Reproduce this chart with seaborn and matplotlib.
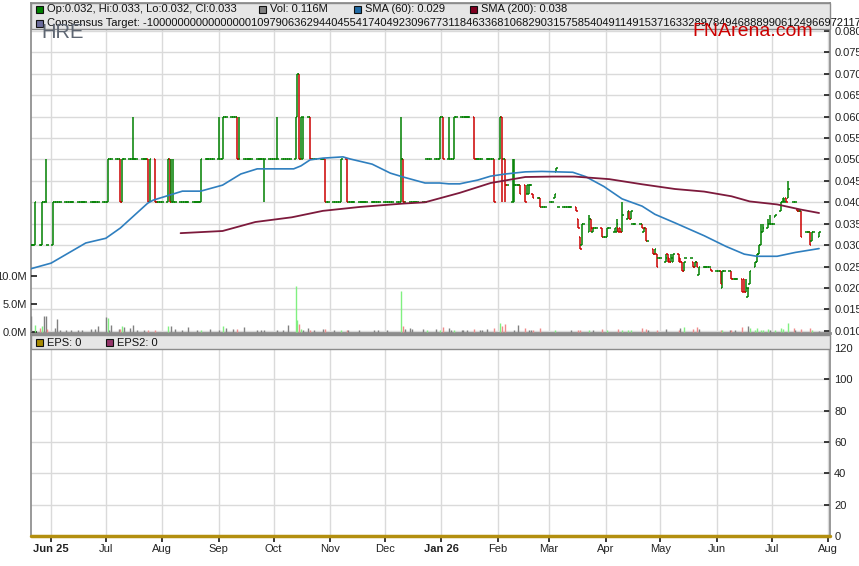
import matplotlib
matplotlib.use("Agg")
import matplotlib.pyplot as plt
from matplotlib.patches import Rectangle
import seaborn as sns
import numpy as np
import pandas as pd

# daily bars, prices in tenths of a cent (30 = 0.030); unlisted days repeat the last close
bar_dates = [
    "2025-05-21", "2025-05-23", "2025-05-26", "2025-05-27", "2025-05-29", "2025-05-30", "2025-06-02",
    "2025-07-02", "2025-07-09", "2025-07-10", "2025-07-16", "2025-07-24", "2025-07-25", "2025-07-28",
    "2025-08-04", "2025-08-05", "2025-08-06", "2025-08-07", "2025-08-22",
    "2025-09-01", "2025-09-03", "2025-09-11", "2025-09-12", "2025-09-26",
    "2025-10-03", "2025-10-13", "2025-10-14", "2025-10-15", "2025-10-16", "2025-10-17", "2025-10-21", "2025-10-29",
    "2025-11-07", "2025-11-10", "2025-12-10", "2025-12-11", "2025-12-24", "2025-12-31",
    "2026-01-02", "2026-01-05", "2026-01-08", "2026-01-19", "2026-01-30",
    "2026-02-02", "2026-02-03", "2026-02-05", "2026-02-09", "2026-02-10", "2026-02-13", "2026-02-16",
    "2026-02-17", "2026-02-18", "2026-02-20", "2026-02-24",
    "2026-03-02", "2026-03-04", "2026-03-05", "2026-03-06", "2026-03-16", "2026-03-17", "2026-03-18",
    "2026-03-19", "2026-03-23", "2026-03-24", "2026-03-25", "2026-03-30",
    "2026-04-02", "2026-04-06", "2026-04-07", "2026-04-08", "2026-04-09", "2026-04-10", "2026-04-13",
    "2026-04-14", "2026-04-15", "2026-04-16", "2026-04-21", "2026-04-22", "2026-04-23", "2026-04-27",
    "2026-04-28", "2026-04-29", "2026-04-30",
    "2026-05-04", "2026-05-05", "2026-05-06", "2026-05-07", "2026-05-08", "2026-05-11", "2026-05-12",
    "2026-05-13", "2026-05-14", "2026-05-15", "2026-05-19", "2026-05-20", "2026-05-21", "2026-05-22",
    "2026-05-29",
    "2026-06-03", "2026-06-04", "2026-06-09", "2026-06-15", "2026-06-16", "2026-06-17", "2026-06-18",
    "2026-06-19", "2026-06-22", "2026-06-23", "2026-06-24", "2026-06-25", "2026-06-26", "2026-06-29",
    "2026-06-30",
    "2026-07-03", "2026-07-06", "2026-07-07", "2026-07-08", "2026-07-09", "2026-07-10", "2026-07-13",
    "2026-07-15", "2026-07-17", "2026-07-20", "2026-07-22", "2026-07-23", "2026-07-27",
]
bar_open = [
    30, 30, 30, 30, 40, 30, 30,
    40, 50, 40, 50, 50, 40, 50,
    40, 50, 40, 40, 40,
    50, 50, 60, 50, 50,
    50, 50, 60, 70, 50, 50, 60, 50,
    40, 50, 40, 50, 50, 50,
    60, 50, 50, 60, 50,
    50, 60, 50, 40, 40, 44, 44,
    42, 42, 42, 41,
    40, 41, 47, 39, 39, 36, 32,
    30, 33, 36, 33, 34,
    32, 33, 33, 34, 34, 33, 36,
    38, 36, 35, 35, 33, 34, 29,
    28, 28, 27,
    26, 28, 27, 26, 26, 28, 27,
    26, 24, 27, 26, 25, 26, 23,
    24.5,
    24, 20, 24, 22, 22, 19, 18,
    21, 25, 26, 28, 30, 33, 34,
    35,
    36.5, 38, 40, 40, 41, 41, 40,
    38.5, 38, 33, 33, 31, 32,
]
bar_high = [
    30, 40, 30, 40, 50, 30, 40,
    50, 50, 50, 60, 50, 50, 50,
    50, 50, 50, 50, 50,
    60, 60, 60, 60, 50,
    60, 60, 70, 70, 60, 60, 60, 50,
    50, 50, 60, 50, 50, 60,
    60, 60, 60, 60, 50,
    60, 60, 50, 50, 50, 44, 44,
    44, 44, 42, 41,
    40, 42, 48, 39, 39, 36, 32,
    35, 37, 36, 34, 34,
    34, 34, 36, 34, 34, 40, 38,
    38, 38, 35, 35, 34, 34, 29,
    29, 28, 27,
    28, 28, 27, 28, 28, 28, 27,
    26, 26, 27, 26, 26, 26, 25,
    24.5,
    24, 24, 24, 22, 22, 22, 20,
    24, 26, 28, 30, 35, 35, 36,
    37,
    37, 40, 41, 41, 41, 45, 40,
    38.5, 38, 33, 33, 33, 33,
]
bar_low = [
    30, 30, 30, 30, 40, 30, 30,
    40, 40, 40, 50, 40, 40, 40,
    40, 40, 40, 40, 40,
    50, 50, 50, 50, 40,
    50, 50, 60, 50, 50, 50, 50, 40,
    40, 40, 40, 40, 50, 50,
    50, 50, 50, 50, 40,
    50, 40, 40, 40, 40, 42, 40,
    42, 42, 41, 39,
    40, 41, 47, 39, 38, 34, 29,
    30, 33, 33, 33, 32,
    32, 33, 33, 33, 33, 33, 36,
    36, 36, 35, 34, 33, 31, 28,
    28, 25, 27,
    26, 26, 26, 26, 26, 26, 26,
    24, 24, 27, 25, 25, 25, 23,
    24,
    21, 20, 22, 19, 19, 19, 18,
    21, 25, 26, 28, 30, 33, 34,
    35,
    36.5, 38, 40, 40, 40, 41, 40,
    38, 32, 33, 30, 31, 32,
]
bar_close = [
    30, 40, 30, 40, 40, 30, 40,
    50, 40, 50, 50, 40, 50, 40,
    50, 40, 40, 40, 50,
    50, 60, 50, 50, 50,
    50, 60, 70, 50, 60, 60, 50, 40,
    50, 40, 50, 40, 50, 60,
    50, 50, 60, 50, 40,
    60, 50, 44, 44, 44, 42, 40,
    44, 44, 41, 39,
    40, 42, 48, 39, 38, 34, 29,
    35, 36, 34, 34, 32,
    34, 34, 35, 33, 33, 37, 38,
    36, 38, 35, 34, 34, 31, 28,
    29, 25, 27,
    27, 26, 26, 27, 28, 26, 26,
    24, 26, 27, 25, 26, 25, 25,
    24,
    21, 24, 22, 19, 19, 20, 20,
    24, 26, 28, 30, 33, 34, 35,
    35,
    37, 40, 41, 40, 40, 43, 40,
    38, 32, 33, 30, 33, 33,
]

# daily volume, millions of shares
vol_dates = [
    "2025-05-21", "2025-05-23", "2025-05-26", "2025-05-27", "2025-05-28", "2025-05-29", "2025-05-30",
    "2025-06-03", "2025-06-04", "2025-06-06", "2025-06-09", "2025-06-12", "2025-06-16", "2025-06-18",
    "2025-06-23", "2025-06-25", "2025-06-27",
    "2025-07-01", "2025-07-02", "2025-07-03", "2025-07-04", "2025-07-08", "2025-07-09", "2025-07-10",
    "2025-07-11", "2025-07-14", "2025-07-16", "2025-07-18", "2025-07-22", "2025-07-24", "2025-07-28",
    "2025-08-04", "2025-08-06", "2025-08-08", "2025-08-12", "2025-08-15", "2025-08-20", "2025-08-22",
    "2025-08-27",
    "2025-09-01", "2025-09-03", "2025-09-05", "2025-09-09", "2025-09-11", "2025-09-15", "2025-09-22",
    "2025-09-24", "2025-09-26",
    "2025-10-03", "2025-10-06", "2025-10-09", "2025-10-13", "2025-10-14", "2025-10-15", "2025-10-16",
    "2025-10-17", "2025-10-20", "2025-10-21", "2025-10-23", "2025-10-28", "2025-10-29",
    "2025-11-03", "2025-11-07", "2025-11-10", "2025-11-11", "2025-11-17", "2025-11-25", "2025-11-27",
    "2025-12-02", "2025-12-10", "2025-12-11", "2025-12-12", "2025-12-15", "2025-12-16", "2025-12-22",
    "2025-12-24", "2025-12-29", "2025-12-31",
    "2026-01-02", "2026-01-05", "2026-01-06", "2026-01-08", "2026-01-12", "2026-01-13", "2026-01-15",
    "2026-01-19", "2026-01-22", "2026-01-23", "2026-01-26", "2026-01-30",
    "2026-02-02", "2026-02-03", "2026-02-05", "2026-02-10", "2026-02-12", "2026-02-16", "2026-02-18",
    "2026-02-19", "2026-02-20", "2026-02-24",
    "2026-03-04", "2026-03-13", "2026-03-17", "2026-03-18", "2026-03-23", "2026-03-25", "2026-03-30",
    "2026-04-02", "2026-04-08", "2026-04-10", "2026-04-13", "2026-04-15", "2026-04-21", "2026-04-23",
    "2026-04-24", "2026-04-29",
    "2026-05-04", "2026-05-11", "2026-05-12", "2026-05-14", "2026-05-19", "2026-05-21", "2026-05-22",
    "2026-06-03", "2026-06-04", "2026-06-08", "2026-06-09", "2026-06-11", "2026-06-15", "2026-06-18",
    "2026-06-19", "2026-06-22", "2026-06-23", "2026-06-25", "2026-06-26", "2026-06-29", "2026-06-30",
    "2026-07-03", "2026-07-06", "2026-07-07", "2026-07-10", "2026-07-13", "2026-07-14", "2026-07-17",
    "2026-07-22", "2026-07-23", "2026-07-27",
]
vol_values = [
    2.8, 1.2, 0.7, 1.0, 2.8, 2.8, 0.5,
    0.7, 2.2, 0.3, 0.25, 0.3, 0.3, 0.3,
    0.4, 0.5, 1.0,
    2.6, 2.4, 0.3, 1.2, 0.5, 0.5, 1.0,
    0.9, 0.7, 1.2, 0.3, 0.3, 0.3, 0.2,
    1.0, 1.0, 0.5, 0.3, 0.85, 0.3, 0.3,
    0.5,
    0.3, 1.0, 0.7, 0.5, 0.5, 0.85, 0.3,
    0.3, 0.2,
    0.3, 0.3, 1.2, 8.3, 2.1, 1.4, 0.5,
    0.3, 0.7, 0.3, 0.2, 0.4, 0.5,
    0.2, 0.2, 0.2, 0.2, 0.2, 0.2, 0.2,
    0.3, 7.4, 1.0, 0.5, 0.7, 0.4, 0.5,
    0.3, 0.5, 0.3,
    0.85, 0.6, 0.3, 0.3, 0.3, 0.2, 0.3,
    0.5, 0.3, 0.3, 0.4, 0.7,
    1.6, 1.0, 1.4, 0.3, 1.2, 0.7, 0.2,
    0.2, 0.3, 0.7,
    0.2, 0.2, 0.3, 0.3, 0.2, 0.2, 0.4,
    0.3, 0.4, 0.3, 0.3, 0.3, 0.7, 0.5,
    0.3, 0.3,
    0.4, 0.3, 0.6, 0.85, 0.5, 0.85, 0.4,
    0.2, 0.3, 0.3, 0.3, 0.3, 0.85, 1.0,
    0.6, 0.3, 0.7, 0.3, 0.3, 0.4, 0.3,
    0.3, 0.55, 0.4, 1.6, 0.55, 0.2, 0.5,
    0.55, 0.3, 0.116,
]

# moving averages
sma60_dates = [
    "2025-05-21", "2025-06-01", "2025-06-20", "2025-07-01", "2025-07-09", "2025-07-24", "2025-07-27",
    "2025-08-12", "2025-08-22", "2025-09-03", "2025-09-13", "2025-09-22", "2025-10-12", "2025-10-16",
    "2025-10-21", "2025-10-28", "2025-11-08", "2025-11-12", "2025-11-24", "2025-12-04", "2025-12-11",
    "2025-12-23", "2025-12-31", "2026-01-05", "2026-01-11", "2026-01-21", "2026-01-28", "2026-02-05",
    "2026-02-16", "2026-02-25", "2026-03-14", "2026-03-21", "2026-03-31", "2026-04-10", "2026-04-21",
    "2026-04-28", "2026-05-09", "2026-05-25", "2026-06-06", "2026-06-16", "2026-06-23", "2026-07-04",
    "2026-07-14", "2026-07-27",
]
sma60_values = [
    0.0245, 0.0258, 0.0305, 0.0316, 0.0340, 0.0398, 0.0405,
    0.0426, 0.0426, 0.0440, 0.0466, 0.0478, 0.0478, 0.0485,
    0.0499, 0.0503, 0.0506, 0.0501, 0.0489, 0.0468, 0.0459,
    0.0445, 0.0445, 0.0443, 0.0443, 0.0452, 0.0461, 0.0466,
    0.0471, 0.0472, 0.0470, 0.0460, 0.0437, 0.0408, 0.0391,
    0.0372, 0.0352, 0.0322, 0.0297, 0.0279, 0.0274, 0.0274,
    0.0283, 0.0292,
]
sma200_dates = [
    "2025-08-11", "2025-09-03", "2025-09-21", "2025-10-11", "2025-10-28", "2025-11-17", "2025-12-11",
    "2025-12-23", "2026-01-11", "2026-01-28", "2026-02-16", "2026-03-03", "2026-03-15", "2026-04-03",
    "2026-04-21", "2026-05-09", "2026-05-25", "2026-06-09", "2026-06-19", "2026-07-04", "2026-07-17",
    "2026-07-27",
]
sma200_values = [
    0.0328, 0.0333, 0.0354, 0.0365, 0.0380, 0.0389, 0.0397,
    0.0400, 0.0422, 0.0445, 0.0459, 0.0460, 0.0460, 0.0454,
    0.0442, 0.0431, 0.0425, 0.0414, 0.0402, 0.0395, 0.0383,
    0.0375,
]

eps_dates = ["2025-05-21", "2026-08-02"]
eps_values = [0, 0]

price_ticks = [0.010, 0.015, 0.020, 0.025, 0.030, 0.035, 0.040, 0.045,
               0.050, 0.055, 0.060, 0.065, 0.070, 0.075, 0.080]
vol_ticks = [0, 5, 10]
eps_ticks = [0, 20, 40, 60, 80, 100, 120]
month_ticks = ["2025-06-01", "2025-07-01", "2025-08-01", "2025-09-01", "2025-10-01", "2025-11-01",
               "2025-12-01", "2026-01-01", "2026-02-01", "2026-03-01", "2026-04-01", "2026-05-01",
               "2026-06-01", "2026-07-01", "2026-08-01"]
month_labels = ["Jun 25", "Jul", "Aug", "Sep", "Oct", "Nov", "Dec", "Jan 26",
                "Feb", "Mar", "Apr", "May", "Jun", "Jul", "Aug"]

# build daily table
bars = pd.DataFrame({"open": bar_open, "high": bar_high, "low": bar_low, "close": bar_close},
                    index=pd.to_datetime(bar_dates)) / 1000.0
vol = pd.Series(vol_values, index=pd.to_datetime(vol_dates))
days = pd.bdate_range(bar_dates[0], bar_dates[-1]).union(bars.index).union(vol.index)
ohlc = bars.reindex(days)
last = ohlc["close"].ffill()
for col in ["open", "high", "low", "close"]:
    ohlc[col] = ohlc[col].fillna(last)
ohlc["vol"] = vol.reindex(days).fillna(0)

sns.set_theme(style="white")
plt.rcParams["font.family"] = ["Liberation Sans", "DejaVu Sans"]

W, H = 859, 566
def fx(x):
    return x / W
def fy(y):
    return 1 - y / H

fig = plt.figure(figsize=(8.59, 5.66), dpi=100)
ax = fig.add_axes([fx(31), fy(333), fx(830) - fx(31), fy(3) - fy(333)])
lax = fig.add_axes([fx(31), fy(536), fx(830) - fx(31), fy(335) - fy(536)], sharex=ax)

grid_c = "#dadada"
spine_c = "#8c8c8c"

# volume on a twin axis (left scale), coloured by change in close
vax = ax.twinx()
chg = ohlc["close"].diff().fillna(0)
vcol = np.where(chg > 0, "#80f080", np.where(chg < 0, "#f08a8a", "#808080"))
vax.vlines(ohlc.index, 0, ohlc["vol"], colors=vcol, lw=1.0, zorder=2)
vax.set_ylim(-0.27, 59.7)
vax.yaxis.set_ticks_position("left")
vax.yaxis.set_label_position("left")
vax.set_yticks(vol_ticks)
vax.set_yticklabels([f"{v:.1f}M" for v in vol_ticks])
vax.tick_params(axis="y", direction="in", length=4, pad=3, labelsize=8, colors="#222222")
vax.grid(False)
for s in vax.spines.values():
    s.set_visible(False)

# price panel (right scale)
ax.set_xlim(pd.Timestamp("2025-05-21"), pd.Timestamp("2026-08-02"))
ax.set_ylim(0.0095, 0.0865)
ax.set_yticks(price_ticks)
ax.yaxis.set_major_formatter(matplotlib.ticker.FormatStrFormatter("%.3f"))
ax.yaxis.tick_right()
ax.set_xticks(pd.to_datetime(month_ticks))
ax.grid(True, color=grid_c, lw=1)
ax.set_axisbelow(True)
ax.tick_params(axis="y", which="both", left=False, labelleft=False, right=True, labelright=True,
               direction="in", length=4, pad=3, labelsize=8, colors="#222222")
ax.tick_params(axis="x", bottom=False, labelbottom=False)
for s in ax.spines.values():
    s.set_color(spine_c)
ax.spines["bottom"].set_linewidth(2)

up = ohlc["close"] >= ohlc["open"]
colors = np.where(up, "#008000", "#cc0000")
half = pd.Timedelta(hours=20)
ax.vlines(ohlc.index, ohlc["low"], ohlc["high"], colors=colors, lw=1.1, zorder=3)
ax.hlines(ohlc["open"], ohlc.index - half, ohlc.index, colors=colors, lw=1.1, zorder=3)
ax.hlines(ohlc["close"], ohlc.index, ohlc.index + half, colors=colors, lw=1.1, zorder=3)

sns.lineplot(x=pd.to_datetime(sma60_dates), y=sma60_values, ax=ax, color="#2f7fbf", lw=1.2, zorder=4)
sns.lineplot(x=pd.to_datetime(sma200_dates), y=sma200_values, ax=ax, color="#7d1a3c", lw=1.3, zorder=4)
ax.set_xlabel("")
ax.set_ylabel("")

# EPS panel
lax.set_ylim(0, 128.4)
lax.set_yticks(eps_ticks)
lax.yaxis.tick_right()
lax.grid(True, color=grid_c, lw=1)
lax.set_axisbelow(True)
sns.lineplot(x=pd.to_datetime(eps_dates), y=eps_values, ax=lax, color="#b38f0f", lw=2.5,
             clip_on=False, zorder=5)
lax.set_xlabel("")
lax.set_ylabel("")
lax.set_xticks(pd.to_datetime(month_ticks))
lax.set_xticklabels(month_labels)
for lbl, txt in zip(lax.get_xticklabels(), month_labels):
    lbl.set_fontfamily(["Liberation Sans Narrow", "Liberation Sans", "DejaVu Sans"])
    lbl.set_fontsize(8)
    if " " in txt:
        lbl.set_fontweight("bold")
lax.tick_params(axis="x", bottom=True, direction="out", length=4, pad=2, colors="#222222")
lax.tick_params(axis="y", right=True, direction="in", length=4, pad=3, labelsize=8, colors="#222222")
for s in lax.spines.values():
    s.set_color(spine_c)

# legend bands
fig.add_artist(Rectangle((fx(31), fy(29)), fx(830) - fx(31), fy(3) - fy(29), transform=fig.transFigure,
                         facecolor="#e6e6e6", edgecolor=spine_c, lw=1, zorder=1))
fig.add_artist(Rectangle((fx(31), fy(349)), fx(830) - fx(31), fy(335) - fy(349), transform=fig.transFigure,
                         facecolor="#e6e6e6", edgecolor=spine_c, lw=1, zorder=1))

def key(x, y, color, text):
    fig.add_artist(Rectangle((fx(x), fy(y + 7)), fx(7), 7 / H, transform=fig.transFigure,
                             facecolor=color, edgecolor="#111111", lw=0.8, zorder=3))
    fig.text(fx(x + 11), fy(y + 3.5), text, fontsize=8, color="#111111", va="center", ha="left", zorder=3)

key(36, 6, "#008000", "Op:0.032, Hi:0.033, Lo:0.032, Cl:0.033")
key(259, 6, "#808080", "Vol: 0.116M")
key(354, 6, "#1f6aa5", "SMA (60): 0.029")
key(470, 6, "#800020", "SMA (200): 0.038")
key(36, 20, "#6a6a9a", "Consensus Target: -1000000000000000010979063629440455417404923096773118463368106829"
                       "0315758540491149153716332897849468889906124966972117")
key(36, 339, "#a88a00", "EPS: 0")
key(106, 339, "#94356a", "EPS2: 0")

fig.text(fx(41), fy(32), "HRE", fontsize=14.5, color="#5e6672", va="center", ha="left", zorder=4)
fig.text(fx(692), fy(32), "FNArena.com", fontsize=14, color="#cc0000", va="center", ha="left", zorder=4)

fig.savefig("out.png", dpi=100)
